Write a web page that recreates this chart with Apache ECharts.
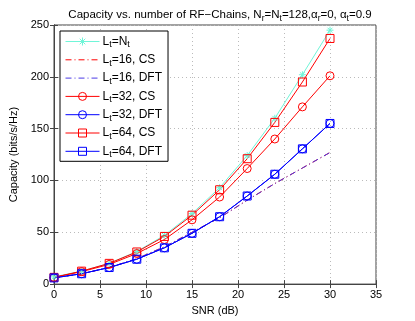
<!DOCTYPE html>
<html><head><meta charset="utf-8">
<script src="https://cdn.jsdelivr.net/npm/echarts@6/dist/echarts.min.js"></script>
<style>html,body{margin:0;padding:0;background:#fff}#c{width:415px;height:321px}</style>
</head><body><div id="c"></div>
<script>
const snr = [0, 3, 6, 9, 12, 15, 18, 21, 24, 27, 30];
const ltNt    = [7, 12.5, 20, 31.5, 47, 68, 93, 124, 160, 202, 245];
const lt16CS  = [6, 10, 16, 24.5, 36, 50, 64, 81, 97, 112, 127];
const lt16DFT = [6, 10, 16, 24.5, 36, 50, 64, 81, 97, 112, 127];
const lt32CS  = [6.5, 12, 19, 29.5, 43, 62, 84, 111.5, 140, 171, 201];
const lt32DFT = [6, 10, 16, 24, 35, 49, 65, 85, 106, 130.5, 155];
const lt64CS  = [6.5, 12.5, 20, 31, 46, 66.5, 91, 121, 156, 195, 237];
const lt64DFT = [6, 10, 16, 24, 35, 49, 65, 85, 106, 130.5, 155];
const xTicks = [0, 5, 10, 15, 20, 25, 30, 35];
const yTicks = [0, 50, 100, 150, 200, 250];

const FONT = 'Liberation Sans, Arial, sans-serif';
const RED = '#ff0000', BLUE = '#0000ff', CYAN = '#70f5d8', DASHBLUE = '#4a3ae6';
const star = 'path://M5,0 L5,10 M0,5 L10,5 M1.5,1.5 L8.5,8.5 M8.5,1.5 L1.5,8.5';
const pts = a => snr.map((x, i) => [x, a[i]]);

const legendLabels = {
  'Nt': 'L{s|t}=N{s|t}',
  '16CS': 'L{s|t}=16, CS',
  '16DFT': 'L{s|t}=16, DFT',
  '32CS': 'L{s|t}=32, CS',
  '32DFT': 'L{s|t}=32, DFT',
  '64CS': 'L{s|t}=64, CS',
  '64DFT': 'L{s|t}=64, DFT'
};

function mk(name, data, color, symbol, dash) {
  return {
    name, type: 'line', data: pts(data), smooth: false,
    symbol: symbol || 'circle', symbolSize: symbol === star ? 7 : 8,
    showSymbol: !!symbol,
    lineStyle: { color, width: 1, type: dash ? [6, 3, 1, 3] : 'solid' },
    itemStyle: { color: 'none', borderColor: color, borderWidth: 1 },
    emphasis: { disabled: true },
    animation: false
  };
}

const chart = echarts.init(document.getElementById('c'), null, { renderer: 'canvas' });
const axisCommon = {
  axisLine: { show: true, lineStyle: { color: '#444', width: 1 } },
  axisTick: { show: true, inside: true, length: 4, lineStyle: { color: '#444' } },
  axisLabel: { color: '#000', fontFamily: FONT, fontSize: 11 },
  splitLine: { show: false }
};
chart.setOption({
  backgroundColor: '#fff',
  animation: false,
  title: {
    text: 'Capacity vs. number of RF\u2212Chains, N{s|r}=N{s|t}=128,\u03b1{s|r}=0, \u03b1{s|t}=0.9',
    left: 215, textAlign: 'center', top: 2,
    textStyle: {
      fontFamily: FONT, fontSize: 11.5, fontWeight: 'normal', color: '#000',
      rich: { s: { fontFamily: FONT, fontSize: 8.5, padding: [7, 0, 0, 0], color: '#000' } }
    }
  },
  grid: { left: 54, right: 39, top: 25, bottom: 36, show: true, borderColor: '#444', borderWidth: 1, backgroundColor: '#fff' },
  legend: {
    orient: 'vertical', left: 60, top: 31,
    padding: [4, 6, 2, 5], itemGap: 3.8, itemWidth: 34, itemHeight: 10,
    backgroundColor: '#fff', borderColor: '#000', borderWidth: 1,
    lineStyle: { width: 1 },
    itemStyle: { borderWidth: 1 },
    data: [
      { name: 'Nt' },
      { name: '16CS', itemStyle: { opacity: 0 } },
      { name: '16DFT', itemStyle: { opacity: 0 } },
      { name: '32CS' }, { name: '32DFT' }, { name: '64CS' }, { name: '64DFT' }
    ],
    formatter: n => legendLabels[n],
    textStyle: {
      fontFamily: FONT, fontSize: 12, color: '#000', padding: [0, 0, 0, -2],
      rich: { s: { fontFamily: FONT, fontSize: 9, padding: [7, 0, 0, 0], color: '#000' } }
    }
  },
  xAxis: [
    Object.assign({}, axisCommon, {
      type: 'value', min: 0, max: 35, interval: 5, position: 'bottom',
      name: 'SNR (dB)', nameLocation: 'middle', nameGap: 17,
      nameTextStyle: { fontFamily: FONT, fontSize: 11, color: '#000' },
      axisLabel: { color: '#000', fontFamily: FONT, fontSize: 11, margin: 5 },
      splitLine: { show: true, lineStyle: { color: '#bbb', type: [1, 3] } }
    }),
    Object.assign({}, axisCommon, {
      type: 'value', min: 0, max: 35, interval: 5, position: 'top',
      axisLabel: { show: false }
    })
  ],
  yAxis: [
    Object.assign({}, axisCommon, {
      type: 'value', min: 0, max: 250, interval: 50, position: 'left',
      name: 'Capacity (bits/s/Hz)', nameLocation: 'middle', nameGap: 27,
      nameTextStyle: { fontFamily: FONT, fontSize: 11, color: '#000' },
      axisLabel: { color: '#000', fontFamily: FONT, fontSize: 11, margin: 5 },
      splitLine: { show: true, lineStyle: { color: '#bbb', type: [1, 3] } }
    }),
    Object.assign({}, axisCommon, {
      type: 'value', min: 0, max: 250, interval: 50, position: 'right',
      axisLabel: { show: false }
    })
  ],
  series: [
    mk('Nt', ltNt, CYAN, star),
    mk('16CS', lt16CS, RED, null, true),
    mk('16DFT', lt16DFT, DASHBLUE, null, true),
    mk('32CS', lt32CS, RED, 'circle'),
    mk('32DFT', lt32DFT, BLUE, 'circle'),
    mk('64CS', lt64CS, RED, 'rect'),
    mk('64DFT', lt64DFT, BLUE, 'rect')
  ]
});
</script></body></html>
